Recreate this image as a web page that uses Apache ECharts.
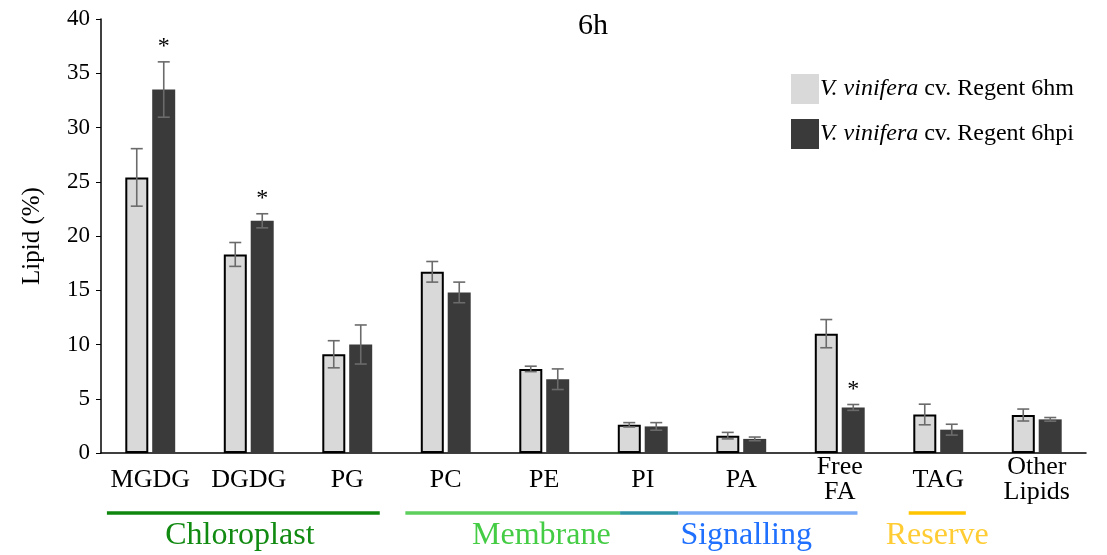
<!DOCTYPE html>
<html>
<head>
<meta charset="utf-8">
<script src="https://cdn.jsdelivr.net/npm/echarts@6/dist/echarts.min.js"></script>
<style>
  html, body { margin: 0; padding: 0; background: #fff; }
</style>
</head>
<body>
<div id="main" style="width:1107px; height:555px;"></div>
<script>
// 脂质类别
var categories = ['MGDG', 'DGDG', 'PG', 'PC', 'PE', 'PI', 'PA', 'Free\nFA', 'TAG', 'Other\nLipids'];
// 6hm (mock) 与 6hpi 的均值
var mockValues = [25.4, 18.3, 9.1, 16.7, 7.75, 2.6, 1.6, 11.0, 3.55, 3.5];
var infValues = [33.5, 21.4, 10.0, 14.8, 6.8, 2.45, 1.3, 4.2, 2.15, 3.1];
// 误差 (±)
var mockErr = [2.65, 1.1, 1.25, 0.95, 0.25, 0.2, 0.3, 1.3, 0.95, 0.55];
var infErr = [2.55, 0.65, 1.8, 0.95, 0.95, 0.35, 0.17, 0.27, 0.5, 0.17];
// 显著性 (*)
var infSig = [1, 1, 0, 0, 0, 0, 0, 1, 0, 0];
var seriesNames = ['V. vinifera cv. Regent 6hm', 'V. vinifera cv. Regent 6hpi'];
var yTicks = { min: 0, max: 40, interval: 5 };
// 分组线 (类别单位)
var groupLines = [
  { from: -0.44, to: 2.33, color: '#0f870f' },
  { from: 2.59, to: 4.77, color: '#5ccf5c' },
  { from: 4.77, to: 5.36, color: '#2f93a8' },
  { from: 5.36, to: 7.18, color: '#7aaaf5' },
  { from: 7.7, to: 8.28, color: '#ffc400' }
];
var groupLabels = [
  { name: 'Chloroplast', at: 0.91, color: '#118a11' },
  { name: 'Membrane', at: 3.97, color: '#44cc44' },
  { name: 'Signalling', at: 6.05, color: '#1f70ff' },
  { name: 'Reserve', at: 7.99, color: '#ffcc33' }
];

var serif = '"Liberation Serif", "DejaVu Serif", serif';
var barW = 23;
var offset = 13.5; // 两柱中心的半距离

function errData(vals, errs, sig) {
  return vals.map(function (v, i) {
    return [i, v - errs[i], v + errs[i], sig ? sig[i] : 0];
  });
}

function errRender(dx) {
  return function (params, api) {
    var x = api.coord([api.value(0), 0])[0] + dx;
    var lo = api.coord([api.value(0), api.value(1)])[1];
    var hi = api.coord([api.value(0), api.value(2)])[1];
    var st = { stroke: '#6b6b6b', lineWidth: 1.6 };
    var kids = [
      { type: 'line', shape: { x1: x, y1: lo, x2: x, y2: hi }, style: st },
      { type: 'line', shape: { x1: x - 6, y1: lo, x2: x + 6, y2: lo }, style: st },
      { type: 'line', shape: { x1: x - 6, y1: hi, x2: x + 6, y2: hi }, style: st }
    ];
    if (api.value(3)) {
      kids.push({
        type: 'text',
        style: { x: x, y: hi - 15, text: '*', fill: '#000', font: '24px ' + serif, align: 'center', verticalAlign: 'middle' }
      });
    }
    return { type: 'group', children: kids };
  };
}

var myChart = echarts.init(document.getElementById('main'));
myChart.setOption({
  animation: false,
  title: {
    text: '6h',
    left: 588, top: 6, textAlign: 'center',
    textStyle: { fontFamily: serif, fontSize: 30, fontWeight: 'normal', color: '#000' }
  },
  legend: {
    orient: 'vertical',
    left: 786, top: 69,
    itemWidth: 28, itemHeight: 30, itemGap: 15,
    icon: 'rect',
    itemStyle: { borderWidth: 0 },
    data: seriesNames,
    formatter: function (name) {
      return '{i|V. vinifera} cv. ' + name.split('cv. ')[1];
    },
    textStyle: {
      fontFamily: serif, fontSize: 24, color: '#000', padding: [0, 0, 0, -4],
      rich: { i: { fontFamily: serif, fontSize: 24, fontStyle: 'italic', color: '#000' } }
    }
  },
  grid: { left: 101, right: 21, top: 19, bottom: 102 },
  xAxis: {
    type: 'category',
    data: categories,
    axisLine: { lineStyle: { color: '#000', width: 1.5 } },
    axisTick: { show: false },
    axisLabel: {
      fontFamily: serif, fontSize: 26, color: '#000', lineHeight: 25,
      verticalAlign: 'middle', margin: 27, interval: 0, align: 'center'
    }
  },
  yAxis: {
    type: 'value',
    min: yTicks.min, max: yTicks.max, interval: yTicks.interval,
    name: 'Lipid (%)', nameLocation: 'middle', nameGap: 56, nameRotate: 90,
    nameTextStyle: { fontFamily: serif, fontSize: 25, color: '#000' },
    axisLine: { show: true, lineStyle: { color: '#000', width: 1.5 } },
    axisTick: { show: true, length: 5, lineStyle: { color: '#000' } },
    axisLabel: { fontFamily: serif, fontSize: 23, color: '#000', margin: 11 },
    splitLine: { show: false }
  },
  series: [
    {
      name: seriesNames[0], type: 'bar', data: mockValues,
      barWidth: barW, barGap: '17%',
      itemStyle: { color: '#d9d9d9', borderColor: '#000', borderWidth: 2 }
    },
    {
      name: seriesNames[1], type: 'bar', data: infValues,
      barWidth: barW, barGap: '17%',
      itemStyle: { color: '#3a3a3a' }
    },
    {
      type: 'custom', renderItem: errRender(-offset), data: errData(mockValues, mockErr),
      z: 5, silent: true
    },
    {
      type: 'custom', renderItem: errRender(offset), data: errData(infValues, infErr, infSig),
      z: 5, silent: true
    }
  ]
});

// 底部分组线和文字
var p0 = myChart.convertToPixel({ xAxisIndex: 0 }, 0);
var p1 = myChart.convertToPixel({ xAxisIndex: 0 }, 1);
var step = p1 - p0;
var base = myChart.convertToPixel({ yAxisIndex: 0 }, 0);
function px(u) { return p0 + u * step; }
var graphics = [];
groupLines.forEach(function (g) {
  graphics.push({
    type: 'line',
    shape: { x1: px(g.from), y1: base + 60, x2: px(g.to), y2: base + 60 },
    style: { stroke: g.color, lineWidth: 3.5 }
  });
});
groupLabels.forEach(function (g) {
  graphics.push({
    type: 'text',
    x: px(g.at), y: base + 83,
    style: { text: g.name, fill: g.color, font: '32px ' + serif, align: 'center', verticalAlign: 'middle' }
  });
});
myChart.setOption({ graphic: graphics });
</script>
</body>
</html>
